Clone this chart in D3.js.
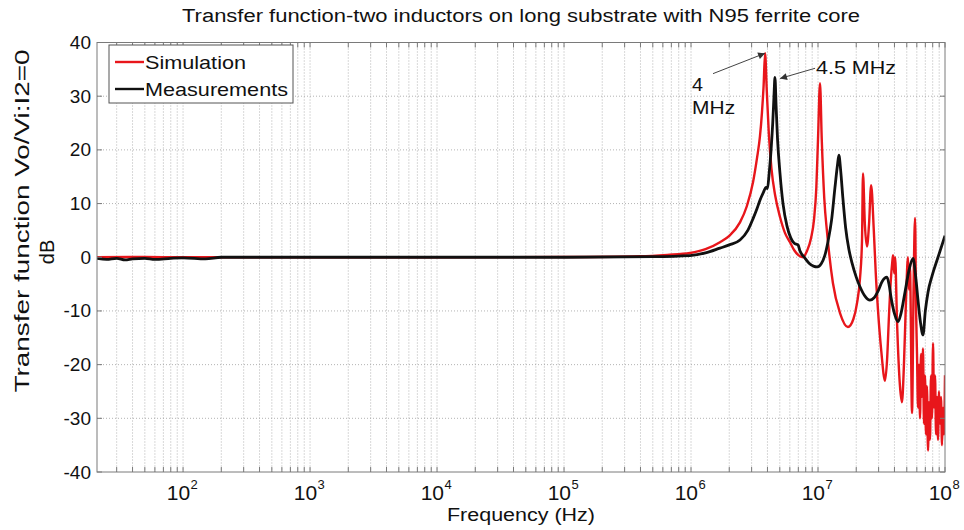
<!DOCTYPE html>
<html>
<head>
<meta charset="utf-8">
<script src="https://cdn.jsdelivr.net/npm/d3@7"></script>
<style>
  html, body { margin: 0; padding: 0; background: #fff; }
  svg { display: block; }
  text { font-family: "Liberation Sans", Arial, Helvetica, sans-serif; fill: #111; }
</style>
</head>
<body>
<svg id="chart" width="964" height="530"></svg>
<script>
// ---------------- DATA ----------------
const xTickExponents = [2, 3, 4, 5, 6, 7, 8];
const yTickValues = [-40, -30, -20, -10, 0, 10, 20, 30, 40];

const seriesNames = ["Simulation", "Measurements"];

// Simulation (red): frequency in Hz, magnitude in dB
const simFreq = [
  21, 50, 100, 1e3, 1e4, 1e5, 3.96e5, 6.5e5, 9.82e5, 1.3e6, 1.69e6, 2.0e6, 2.43e6, 2.75e6, 3.08e6,
  3.31e6, 3.49e6, 3.62e6, 3.73e6, 3.83e6, 3.95e6, 4.1e6, 4.3e6, 4.6e6, 5.02e6, 5.5e6, 6.02e6, 6.5e6,
  7.0e6, 7.62e6, 8.2e6, 8.8e6, 9.3e6, 9.7e6, 1.0e7, 1.037e7, 1.07e7, 1.12e7, 1.18e7, 1.31e7, 1.49e7,
  1.72e7, 1.9e7, 2.03e7, 2.14e7, 2.22e7, 2.26e7, 2.34e7, 2.43e7, 2.52e7, 2.62e7, 2.75e7, 2.85e7,
  2.97e7, 3.15e7, 3.37e7, 3.5e7, 3.62e7, 3.75e7, 3.84e7, 3.90e7, 3.98e7, 4.05e7, 4.19e7, 4.42e7,
  4.58e7, 4.75e7, 4.93e7, 5.11e7, 5.20e7, 5.30e7, 5.50e7, 5.66e7, 5.81e7, 5.92e7, 6.02e7, 6.13e7,
  6.24e7, 6.36e7, 6.47e7, 6.59e7, 6.71e7, 6.83e7, 6.96e7, 7.08e7, 7.21e7, 7.35e7, 7.48e7, 7.62e7,
  7.76e7, 7.90e7, 8.05e7, 8.19e7, 8.35e7, 8.50e7, 8.65e7, 8.81e7, 8.97e7, 9.14e7, 9.30e7, 9.47e7,
  9.65e7, 9.82e7, 1e8
];
const simDb = [
  0, 0.05, 0, 0, 0, 0.05, 0.2, 0.45, 0.8, 1.5, 2.8, 4.0, 6.5, 9.5, 14,
  18.5, 22.5, 27, 32, 38, 31, 23, 16.5, 11.5, 7.5, 4.5, 2.8, 1.3,
  0.4, 0, 1.2, 3.5, 7, 13, 22, 32.4, 22, 11, 4.5, -4.8, -10.4,
  -13, -11.5, -8.5, -4, 3, 15.6, 6, 2, 6, 13.4, 5, -3,
  -10, -17.5, -23, -19, -11, -4, -1, 0.4, -3, 0, -12, -24,
  -27, -20, -8, 0, -6, -2, -29, -5, 7.3, -10, -18, -28,
  -20, -30, -18, -26, -17, -31, -22, -33, -24, -36, -27, -34,
  -22, -30, -16, -28, -22, -33, -26, -34, -25, -31, -26, -35,
  -28, -33, -22
];

// Measurements (black)
const measFreq = [
  21, 25, 30, 35, 40, 50, 60, 80, 100, 150, 200, 1e3, 1e4, 1e5, 5e5, 9.82e5, 1.3e6, 1.69e6, 2.0e6,
  2.43e6, 2.8e6, 3.08e6, 3.3e6, 3.49e6, 3.7e6, 3.90e6, 4.0e6, 4.12e6, 4.27e6, 4.4e6, 4.5e6, 4.58e6,
  4.68e6, 4.8e6, 5.02e6, 5.3e6, 5.7e6, 6.1e6, 6.5e6, 6.96e6, 7.2e6, 7.8e6, 8.5e6, 9.3e6, 9.82e6,
  1.06e7, 1.13e7, 1.2e7, 1.28e7, 1.36e7, 1.42e7, 1.46e7, 1.51e7, 1.57e7, 1.65e7, 1.75e7, 1.85e7,
  2.0e7, 2.14e7, 2.35e7, 2.56e7, 2.75e7, 2.97e7, 3.2e7, 3.49e7, 3.62e7, 3.76e7, 4.0e7, 4.27e7,
  4.5e7, 4.84e7, 5.2e7, 5.6e7, 5.9e7, 6.13e7, 6.4e7, 6.71e7, 7.0e7, 7.35e7, 7.9e7, 8.81e7, 1e8
];
const measDb = [
  -0.2, -0.4, -0.2, -0.5, -0.3, -0.2, -0.4, -0.2, -0.1, -0.3, 0, 0, 0, 0, 0.1, 0.3, 0.8, 1.7, 2.3,
  3.2, 5, 7.2, 9, 10.6, 12, 13, 12.8, 15.5, 20, 25, 30, 33.5,
  28, 22, 15.6, 10, 5.8, 3.6, 2.6, 2.3, 1.2, 0, -1.1, -1.7, -1.8,
  -1.2, 0.3, 3, 7, 13, 17, 19, 16, 11, 5.5, 1.5, -1,
  -3.7, -5.5, -7.3, -8, -7.6, -6.3, -4.5, -3.7, -5, -7.5, -10.5, -12,
  -10.5, -6.5, -2.5, -0.2, -4, -8, -12, -14.5, -10, -6.5, -3.5, 0, 4
];

// Annotations (data coordinates: Hz, dB)
const annotTexts = [["4", "MHz"], ["4.5 MHz"]];
const annotTextFreq = [1.02e6, 9.64e6];
const annotTextDb = [31, 34.2];
const arrowFromFreq = [1.49e6, 9.48e6];
const arrowFromDb = [34.2, 35.2];
const arrowToFreq = [3.83e6, 5.02e6];
const arrowToDb = [38, 33.3];

// ---------------- LAYOUT ----------------
const svg = d3.select("#chart");
const L = 97, R = 945, T = 42.5, B = 472;
const x = d3.scaleLog().domain([21, 1e8]).range([L, R]);
const y = d3.scaleLinear().domain([-40, 40]).range([B, T]);

// minor & major ticks
const majorX = xTickExponents.map(e => Math.pow(10, e));
const minorX = [];
for (let e = 1; e < 8; e++) for (let m = 2; m <= 9; m++) {
  const v = m * Math.pow(10, e);
  if (v > 21 && v < 1e8) minorX.push(v);
}
const allX = majorX.concat(minorX);

// background
svg.append("rect").attr("x", L).attr("y", T).attr("width", R - L).attr("height", B - T).attr("fill", "#fff");

// grid
const grid = svg.append("g").attr("stroke", "#a0a0a0").attr("stroke-width", 0.8).attr("stroke-dasharray", "1,2");
grid.selectAll("line.vx").data(allX.filter(v => v < 1e8)).enter().append("line")
  .attr("x1", d => x(d)).attr("x2", d => x(d)).attr("y1", T).attr("y2", B);
grid.selectAll("line.hy").data(yTickValues.filter(v => v > -40 && v < 40)).enter().append("line")
  .attr("y1", d => y(d)).attr("y2", d => y(d)).attr("x1", L).attr("x2", R);

// lines
const simData = simFreq.map((f, i) => [f, simDb[i]]);
const measData = measFreq.map((f, i) => [f, measDb[i]]);
const line = d3.line().x(d => x(d[0])).y(d => y(d[1])).curve(d3.curveMonotoneX);

const clip = svg.append("clipPath").attr("id", "clip").append("rect")
  .attr("x", L).attr("y", T - 2).attr("width", R - L).attr("height", B - T + 4);
const plot = svg.append("g").attr("clip-path", "url(#clip)");

plot.append("path").datum(simData).attr("d", line)
  .attr("fill", "none").attr("stroke", "#e8161b").attr("stroke-width", 2.4).attr("stroke-linejoin", "round");
plot.append("path").datum(measData).attr("d", line)
  .attr("fill", "none").attr("stroke", "#111").attr("stroke-width", 2.8).attr("stroke-linejoin", "round");

// axes box & ticks
const axisColor = "#7a7a7a";
const ax = svg.append("g").attr("stroke", axisColor).attr("stroke-width", 1);
ax.append("rect").attr("x", L).attr("y", T).attr("width", R - L).attr("height", B - T).attr("fill", "none");
const tl = 5;
ax.selectAll("line.tb").data(allX).enter().append("line")
  .attr("x1", d => x(d)).attr("x2", d => x(d)).attr("y1", B).attr("y2", B - tl);
ax.selectAll("line.tt").data(allX).enter().append("line")
  .attr("x1", d => x(d)).attr("x2", d => x(d)).attr("y1", T).attr("y2", T + tl);
ax.selectAll("line.tl").data(yTickValues).enter().append("line")
  .attr("y1", d => y(d)).attr("y2", d => y(d)).attr("x1", L).attr("x2", L + tl);
ax.selectAll("line.tr").data(yTickValues).enter().append("line")
  .attr("y1", d => y(d)).attr("y2", d => y(d)).attr("x1", R).attr("x2", R - tl);

// y tick labels
svg.selectAll("text.yt").data(yTickValues).enter().append("text")
  .attr("x", L - 6).attr("y", d => y(d) + 6.5)
  .attr("text-anchor", "end").attr("font-size", 19)
  .text(d => d);

// x tick labels 10^n (whole label centred on the tick)
const xt = svg.selectAll("g.xt").data(xTickExponents).enter().append("g")
  .attr("transform", e => `translate(${x(Math.pow(10, e))},0)`);
xt.append("text").attr("x", 7).attr("y", 500).attr("text-anchor", "end").attr("font-size", 21).text("10");
xt.append("text").attr("x", 7.5).attr("y", 489).attr("text-anchor", "start").attr("font-size", 13).text(e => e);

// title
svg.append("text").attr("x", (L + R) / 2).attr("y", 22).attr("text-anchor", "middle")
  .attr("font-size", 18).attr("textLength", 678).attr("lengthAdjust", "spacingAndGlyphs")
  .text("Transfer function-two inductors on long substrate with N95 ferrite core");

// x label
svg.append("text").attr("x", (L + R) / 2).attr("y", 521).attr("text-anchor", "middle")
  .attr("font-size", 18).attr("textLength", 148).attr("lengthAdjust", "spacingAndGlyphs")
  .text("Frequency (Hz)");

// y label (two lines)
svg.append("text").attr("transform", "translate(29,221) rotate(-90)").attr("text-anchor", "middle")
  .attr("font-size", 20).attr("textLength", 343).attr("lengthAdjust", "spacingAndGlyphs")
  .text("Transfer function Vo/Vi:I2=0");
svg.append("text").attr("transform", "translate(54,252) rotate(-90)").attr("text-anchor", "middle")
  .attr("font-size", 20)
  .text("dB");

// legend
const lg = svg.append("g");
lg.append("rect").attr("x", 109).attr("y", 45).attr("width", 184).attr("height", 58)
  .attr("fill", "#fff").attr("stroke", "#555").attr("stroke-width", 1);
const legColors = ["#e8161b", "#111"];
const legLens = [101, 143];
seriesNames.forEach((n, i) => {
  const yy = 62 + i * 27;
  lg.append("line").attr("x1", 115).attr("x2", 144).attr("y1", yy).attr("y2", yy)
    .attr("stroke", legColors[i]).attr("stroke-width", 2.4);
  lg.append("text").attr("x", 145).attr("y", yy + 7).attr("font-size", 19)
    .attr("textLength", legLens[i]).attr("lengthAdjust", "spacingAndGlyphs").text(n);
});

// annotations
const defs = svg.append("defs");
defs.append("marker").attr("id", "ah").attr("viewBox", "0 0 10 10").attr("refX", 10).attr("refY", 5)
  .attr("markerWidth", 9).attr("markerHeight", 7).attr("markerUnits", "userSpaceOnUse").attr("orient", "auto")
  .append("path").attr("d", "M0,0 L10,5 L0,10 z").attr("fill", "#333");
const annotLens = [[11, 43], [80]];
annotTexts.forEach((lines, i) => {
  svg.append("line")
    .attr("x1", x(arrowFromFreq[i])).attr("y1", y(arrowFromDb[i]))
    .attr("x2", x(arrowToFreq[i])).attr("y2", y(arrowToDb[i]))
    .attr("stroke", "#444").attr("stroke-width", 1).attr("marker-end", "url(#ah)");
  lines.forEach((s, j) => {
    svg.append("text").attr("x", x(annotTextFreq[i])).attr("y", y(annotTextDb[i]) + j * 23)
      .attr("font-size", 19).attr("textLength", annotLens[i][j]).attr("lengthAdjust", "spacingAndGlyphs")
      .text(s);
  });
});
</script>
</body>
</html>
